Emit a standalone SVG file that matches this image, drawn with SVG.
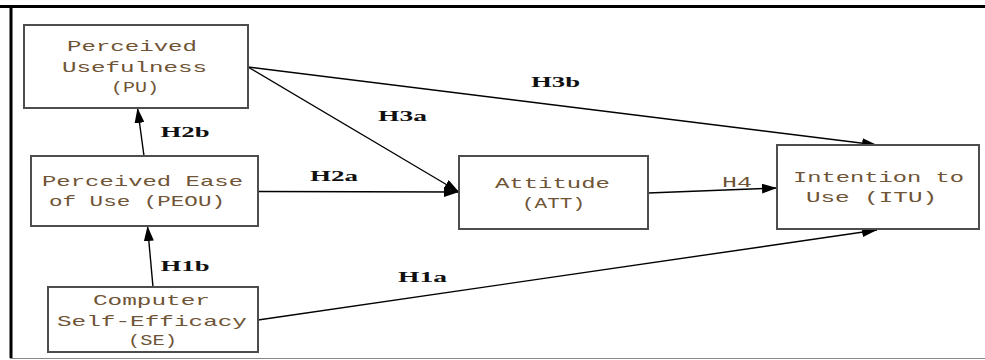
<svg xmlns="http://www.w3.org/2000/svg" width="985" height="360" viewBox="0 0 985 360">
<defs>
<marker id="ah" markerUnits="userSpaceOnUse" markerWidth="15" markerHeight="10" refX="15" refY="5" orient="auto">
<path d="M0,0 L15,5 L0,10 z" fill="#000"/>
</marker>
<style>
.box{fill:#fff;stroke:#4d4d4d;stroke-width:2}
.nt{font-family:"Liberation Mono","DejaVu Sans Mono",monospace;font-size:15px;fill:#6f5436;text-anchor:middle}
.lb{font-family:"Liberation Serif","DejaVu Serif",serif;font-size:15px;font-weight:bold;fill:#111;text-anchor:middle}
.ln{stroke:#000;stroke-width:1.4;fill:none;marker-end:url(#ah)}
</style>
</defs>
<rect x="0" y="0" width="985" height="360" fill="#fff"/>
<g id="frame">
<line x1="0" y1="6.5" x2="985" y2="6.5" stroke="#000" stroke-width="3"/>
<line x1="11" y1="5" x2="11" y2="358" stroke="#000" stroke-width="3"/>
<line x1="10" y1="358.5" x2="985" y2="358.5" stroke="#888" stroke-width="1.2"/>
</g>
<g id="connectors">
<line class="ln" x1="144" y1="156" x2="137.5" y2="108"/>
<line class="ln" x1="153" y1="287" x2="147.5" y2="226"/>
<line class="ln" x1="258" y1="191.5" x2="459" y2="192"/>
<line class="ln" x1="248" y1="67" x2="459" y2="192"/>
<line class="ln" x1="248" y1="67" x2="877" y2="145"/>
<line class="ln" x1="648" y1="193" x2="777" y2="188"/>
<line class="ln" x1="258" y1="320" x2="877" y2="230"/>
<text class="lb" x="185" y="137" textLength="49" lengthAdjust="spacingAndGlyphs">H2b</text>
<text class="lb" x="185" y="271" textLength="49" lengthAdjust="spacingAndGlyphs">H1b</text>
<text class="lb" x="334" y="181" textLength="48" lengthAdjust="spacingAndGlyphs">H2a</text>
<text class="lb" x="402.5" y="121" textLength="49" lengthAdjust="spacingAndGlyphs">H3a</text>
<text class="lb" x="555.5" y="87" textLength="49" lengthAdjust="spacingAndGlyphs">H3b</text>
<text class="lb" x="422.5" y="282" textLength="49" lengthAdjust="spacingAndGlyphs">H1a</text>
<text class="nt" x="737" y="187" textLength="30" lengthAdjust="spacingAndGlyphs">H4</text>
</g>
<g id="PU">
<rect class="box" x="24" y="25" width="224" height="83"/>
<text class="nt" x="132" y="51" textLength="130" lengthAdjust="spacingAndGlyphs">Perceived</text>
<text class="nt" x="134.5" y="72" textLength="145" lengthAdjust="spacingAndGlyphs">Usefulness</text>
<text class="nt" x="135" y="92" textLength="48" lengthAdjust="spacingAndGlyphs">(PU)</text>
</g>
<g id="PEOU">
<rect class="box" x="31" y="156" width="227" height="70"/>
<text class="nt" x="142.5" y="186" textLength="201" lengthAdjust="spacingAndGlyphs">Perceived Ease</text>
<text class="nt" x="137" y="206" textLength="176" lengthAdjust="spacingAndGlyphs">of Use (PEOU)</text>
</g>
<g id="SE">
<rect class="box" x="48" y="287" width="210" height="65"/>
<text class="nt" x="151.5" y="305" textLength="117" lengthAdjust="spacingAndGlyphs">Computer</text>
<text class="nt" x="152" y="326" textLength="190" lengthAdjust="spacingAndGlyphs">Self-Efficacy</text>
<text class="nt" x="152.5" y="345" textLength="49" lengthAdjust="spacingAndGlyphs">(SE)</text>
</g>
<g id="ATT">
<rect class="box" x="459" y="156" width="189" height="73"/>
<text class="nt" x="552.5" y="188" textLength="115" lengthAdjust="spacingAndGlyphs">Attitude</text>
<text class="nt" x="553.5" y="208" textLength="63" lengthAdjust="spacingAndGlyphs">(ATT)</text>
</g>
<g id="ITU">
<rect class="box" x="777" y="145" width="202" height="84"/>
<text class="nt" x="878.5" y="182" textLength="171" lengthAdjust="spacingAndGlyphs">Intention to</text>
<text class="nt" x="871.5" y="202" textLength="131" lengthAdjust="spacingAndGlyphs">Use (ITU)</text>
</g>
</svg>
